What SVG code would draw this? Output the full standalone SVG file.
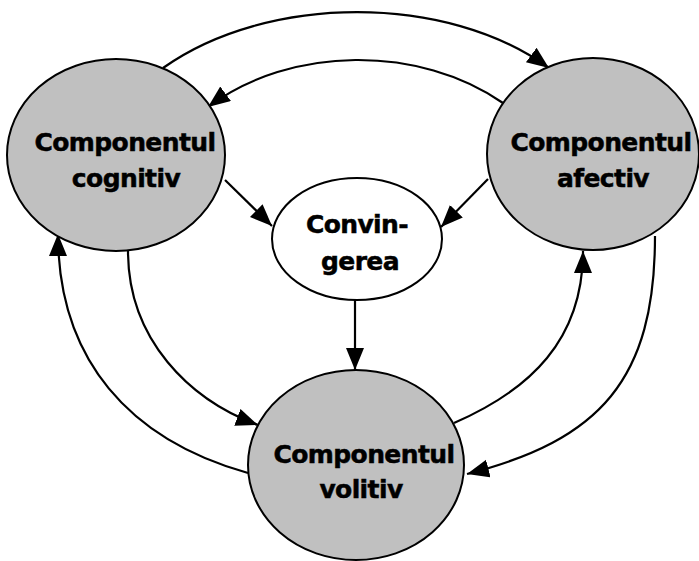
<svg xmlns="http://www.w3.org/2000/svg" width="699" height="561" viewBox="0 0 699 561">
<style>
.node{fill:#c0c0c0;stroke:#000;stroke-width:2}
.center{fill:#fff;stroke:#000;stroke-width:2}
.lbl{font-family:"DejaVu Sans","Liberation Sans",sans-serif;font-weight:bold;font-size:25px;letter-spacing:-0.6px;fill:#000;stroke:#000;stroke-width:0.5;text-anchor:middle}
.edge{fill:none;stroke:#000;stroke-width:2.2;marker-end:url(#ah)}
</style>
<defs>
<marker id="ah" markerUnits="userSpaceOnUse" markerWidth="24" markerHeight="20" refX="22" refY="9" orient="auto">
<path d="M0,0 L22,9 L0,18 z" fill="#000"/>
</marker>
</defs>
<rect width="699" height="561" fill="#fff"/>
<g id="connectors">
<path class="edge" d="M163,68 C268,-6.5 447,-6.5 549,68"/>
<path class="edge" d="M503,103 C420,45 291,45 208,107"/>
<path class="edge" d="M225,180 L272,226"/>
<path class="edge" d="M488,179 L441,227"/>
<path class="edge" d="M355,300 L355,370"/>
<path class="edge" d="M128,251 C128,340 190,400 258,425"/>
<path class="edge" d="M248,473 C130,440 58,360 58,234"/>
<path class="edge" d="M454,423 C530,390 583,340 583,251"/>
<path class="edge" d="M655,236 C655,380 600,440 467,474"/>
</g>
<g id="cognitiv">
<ellipse class="node" cx="116" cy="155" rx="109" ry="96"/>
<text class="lbl" x="125" y="151">Componentul</text>
<text class="lbl" x="126" y="187">cognitiv</text>
</g>
<g id="afectiv">
<ellipse class="node" cx="593" cy="154" rx="106" ry="96"/>
<text class="lbl" x="601" y="151">Componentul</text>
<text class="lbl" x="603" y="187">afectiv</text>
</g>
<g id="volitiv">
<ellipse class="node" cx="356" cy="465" rx="108" ry="95"/>
<text class="lbl" x="364" y="463">Componentul</text>
<text class="lbl" x="361" y="498">volitiv</text>
</g>
<g id="convingerea">
<ellipse class="center" cx="357" cy="239" rx="85" ry="61"/>
<text class="lbl" x="357" y="233">Convin-</text>
<text class="lbl" x="360" y="270">gerea</text>
</g>
</svg>
